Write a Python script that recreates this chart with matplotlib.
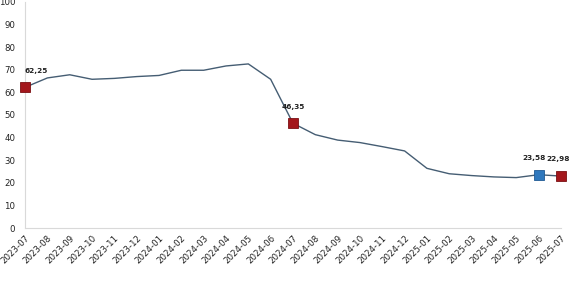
import matplotlib
matplotlib.use("Agg")
import matplotlib.pyplot as plt
from matplotlib.transforms import ScaledTranslation

MONTHS = ["2023-07", "2023-08", "2023-09", "2023-10", "2023-11", "2023-12",
          "2024-01", "2024-02", "2024-03", "2024-04", "2024-05", "2024-06",
          "2024-07", "2024-08", "2024-09", "2024-10", "2024-11", "2024-12",
          "2025-01", "2025-02", "2025-03", "2025-04", "2025-05", "2025-06",
          "2025-07"]
VALUES = [62.25, 66.4, 67.8, 65.8, 66.2, 67.0, 67.5, 69.8, 69.8, 71.7, 72.6,
          65.8, 46.35, 41.3, 38.9, 37.8, 36.0, 34.1, 26.4, 24.0, 23.2, 22.6,
          22.3, 23.58, 22.98]
RED_IDX = [0, 12, 24]
BLUE_IDX = [23]
YTICKS = [0, 10, 20, 30, 40, 50, 60, 70, 80, 90, 100]

LINE = "#455d73"
RED = "#a3171c"
BLUE = "#2f78bd"
SPINE = "#d9d9d9"

fig = plt.figure(figsize=(5.7, 2.85), dpi=100)
ax = fig.add_axes([0.044, 0.2, 0.940, 0.793])
x = list(range(len(MONTHS)))
ax.plot(x, VALUES, color=LINE, lw=1.0, zorder=2)
for i in RED_IDX:
    ax.plot(i, VALUES[i], "s", ms=7.5, color=RED, mec="#7a0f12", mew=0.6,
            zorder=3, clip_on=False)
for i in BLUE_IDX:
    ax.plot(i, VALUES[i], "s", ms=7.5, color=BLUE, mec="#1f5a94", mew=0.6,
            zorder=3, clip_on=False)

# label offsets in points; first one nudged right of the axis, last two
# pulled left so the final label stays inside the canvas
NUDGE = {0: 8, 23: -3, 24: -2}
for i in RED_IDX + BLUE_IDX:
    ax.annotate(f"{VALUES[i]:.2f}".replace(".", ","), (i, VALUES[i]),
                xytext=(NUDGE.get(i, 0), 12), textcoords="offset points",
                ha="center", va="center", fontsize=5.3, fontweight="bold",
                color="#222222", annotation_clip=False, zorder=4)

ax.set_xlim(0, len(MONTHS) - 1)
ax.set_ylim(0, 100)
ax.set_yticks(YTICKS)
ax.set_yticklabels([str(v) for v in YTICKS])
ax.set_xticks(x)
ax.set_xticklabels(MONTHS, rotation=45, ha="right", rotation_mode="anchor")
shift = ScaledTranslation(5 / 100, 0, fig.dpi_scale_trans)
for lbl in ax.get_xticklabels():
    lbl.set_transform(lbl.get_transform() + shift)
ax.tick_params(axis="both", length=0, labelsize=6.2, colors="#222222")
ax.tick_params(axis="x", pad=4)
ax.tick_params(axis="y", pad=7)
for s in ("top", "right"):
    ax.spines[s].set_visible(False)
for s in ("left", "bottom"):
    ax.spines[s].set_color(SPINE)
    ax.spines[s].set_linewidth(0.8)

fig.savefig("out.png", dpi=100)
